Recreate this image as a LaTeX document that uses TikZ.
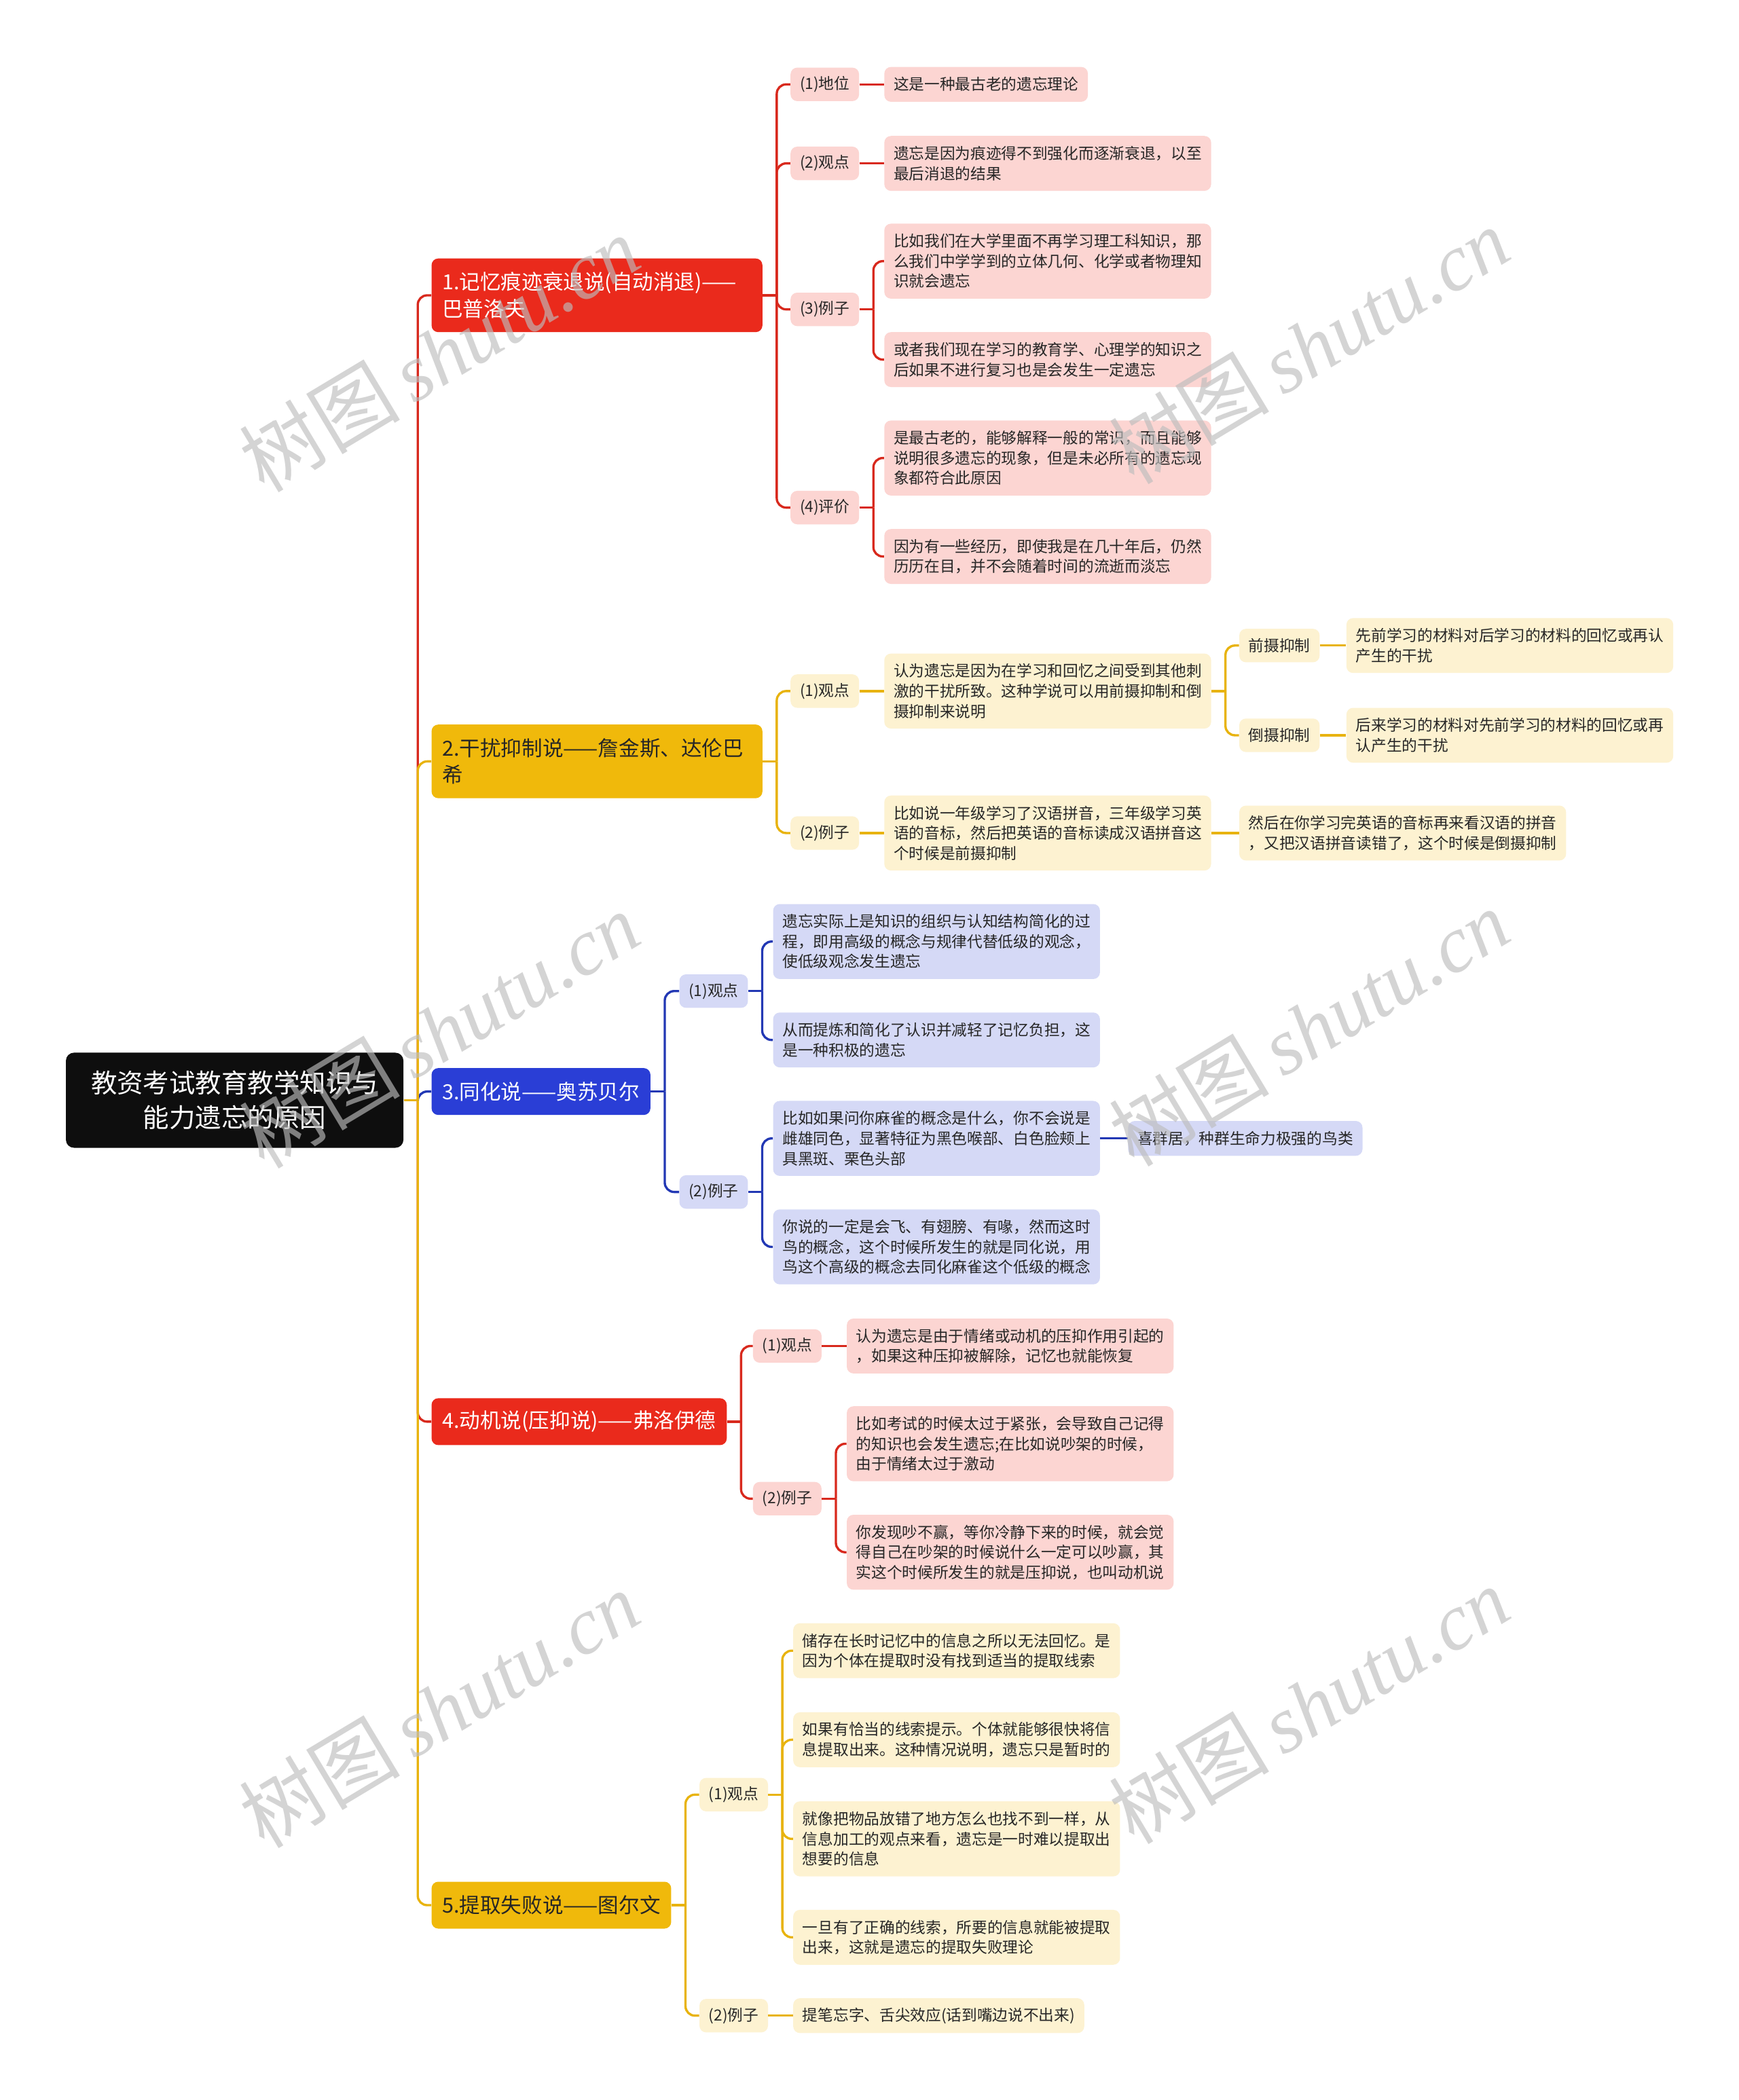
\documentclass[tikz,border=0pt]{standalone}
\usepackage{fontspec}
\setmainfont{Noto Sans CJK SC}
\newfontfamily\wmserif{Liberation Serif}
\newfontfamily\wmcjk{Noto Sans CJK SC}
\usetikzlibrary{calc}

\definecolor{cRed}{HTML}{EA2A1C}
\definecolor{cYel}{HTML}{F0B90B}
\definecolor{cBlu}{HTML}{2A3ED6}
\definecolor{lRed}{HTML}{FCD5D2}
\definecolor{lYel}{HTML}{FDF2D1}
\definecolor{lBlu}{HTML}{D5D9F6}
\definecolor{kRed}{HTML}{D8291D}
\definecolor{kYel}{HTML}{E8B30E}
\definecolor{kBlu}{HTML}{2238B4}
\definecolor{txt}{HTML}{262626}
\definecolor{rootc}{HTML}{0E0E0E}
\definecolor{wm}{HTML}{BDBDBD}

\tikzset{
  box/.style={rounded corners=5pt, anchor=west, inner xsep=7pt, inner ysep=2pt,
    align=left, text=txt, font=\fontsize{11.5}{15}\selectfont},
  one/.style={minimum height=26pt},
  two/.style={minimum height=41pt},
  three/.style={minimum height=56pt},
  lab/.style={box, minimum height=25pt},
  pr/.style={fill=lRed}, py/.style={fill=lYel}, pb/.style={fill=lBlu},
  br/.style={rounded corners=5pt, anchor=west, inner xsep=8pt, inner ysep=2pt,
    align=left, font=\fontsize{15.5}{20}\selectfont},
  brone/.style={br, minimum height=35pt},
  brtwo/.style={br, minimum height=55pt, text width=231pt},
  rootbox/.style={rounded corners=6pt, anchor=west, fill=rootc, text=white,
    align=center, minimum width=252pt, minimum height=71pt,
    font=\fontsize{19.5}{26}\selectfont},
  ln/.style={draw=#1, line width=1.7pt},
  wmark/.style={rotate=31, text=wm, opacity=0.65, inner sep=0pt}
}
\newcommand\mylink[3]{%
  \draw[ln=#1] (#2.east) -- ++(10.5,0);
  \draw[ln=#1, rounded corners=7pt] ($(#2.east)+(10.5,0)$) |- (#3.west);}
\newcommand\mystraight[3]{%
  \draw[ln=#1] (#2.east) -- (#3.west);}

\begin{document}
\begin{tikzpicture}[x=1pt, y=-1pt]
\useasboundingbox (0,0) rectangle (1298,1568);
\fill[white] (0,0) rectangle (1298,1568);

% root
\node[rootbox] (root) at (49,821.5) {教资考试教育教学知识与\\能力遗忘的原因};

% level 1
\node[brtwo, fill=cRed, text=white] (b1) at (322,220.5) {1.记忆痕迹衰退说(自动消退)——\\巴普洛夫};
\node[brtwo, fill=cYel, text=txt] (b2) at (322,568.5) {2.干扰抑制说——詹金斯、达伦巴\\希};
\node[brone, fill=cBlu, text=white] (b3) at (322,815) {3.同化说——奥苏贝尔};
\node[brone, fill=cRed, text=white] (b4) at (322,1061.5) {4.动机说(压抑说)——弗洛伊德};
\node[brone, fill=cYel, text=txt] (b5) at (322,1422.5) {5.提取失败说——图尔文};

% branch 1
\node[lab, pr] (a1) at (590,63) {(1)地位};
\node[lab, pr] (a2) at (590,122) {(2)观点};
\node[lab, pr] (a3) at (590,231) {(3)例子};
\node[lab, pr] (a4) at (590,379) {(4)评价};
\node[box, pr, one] (a1x) at (660,63) {这是一种最古老的遗忘理论};
\node[box, pr, two] (a2x) at (660,122) {遗忘是因为痕迹得不到强化而逐渐衰退，以至\\最后消退的结果};
\node[box, pr, three] (a3x) at (660,195) {比如我们在大学里面不再学习理工科知识，那\\么我们中学学到的立体几何、化学或者物理知\\识就会遗忘};
\node[box, pr, two] (a3y) at (660,268.5) {或者我们现在学习的教育学、心理学的知识之\\后如果不进行复习也是会发生一定遗忘};
\node[box, pr, three] (a4x) at (660,342) {是最古老的，能够解释一般的常识，而且能够\\说明很多遗忘的现象，但是未必所有的遗忘现\\象都符合此原因};
\node[box, pr, two] (a4y) at (660,415.5) {因为有一些经历，即使我是在几十年后，仍然\\历历在目，并不会随着时间的流逝而淡忘};

% branch 2
\node[lab, py] (c1) at (590,516) {(1)观点};
\node[lab, py] (c2) at (590,622) {(2)例子};
\node[box, py, three] (c1x) at (660,516) {认为遗忘是因为在学习和回忆之间受到其他刺\\激的干扰所致。这种学说可以用前摄抑制和倒\\摄抑制来说明};
\node[lab, py] (c1p) at (925,482) {前摄抑制};
\node[lab, py] (c1q) at (925,549) {倒摄抑制};
\node[box, py, two] (c1px) at (1005,482) {先前学习的材料对后学习的材料的回忆或再认\\产生的干扰};
\node[box, py, two] (c1qx) at (1005,549) {后来学习的材料对先前学习的材料的回忆或再\\认产生的干扰};
\node[box, py, three] (c2x) at (660,622) {比如说一年级学习了汉语拼音，三年级学习英\\语的音标，然后把英语的音标读成汉语拼音这\\个时候是前摄抑制};
\node[box, py, two] (c2y) at (925,622) {然后在你学习完英语的音标再来看汉语的拼音\\，又把汉语拼音读错了，这个时候是倒摄抑制};

% branch 3
\node[lab, pb] (d1) at (507,740) {(1)观点};
\node[lab, pb] (d2) at (507,890) {(2)例子};
\node[box, pb, three] (d1x) at (577,703) {遗忘实际上是知识的组织与认知结构简化的过\\程，即用高级的概念与规律代替低级的观念，\\使低级观念发生遗忘};
\node[box, pb, two] (d1y) at (577,776.5) {从而提炼和简化了认识并减轻了记忆负担，这\\是一种积极的遗忘};
\node[box, pb, three] (d2x) at (577,850) {比如如果问你麻雀的概念是什么，你不会说是\\雌雄同色，显著特征为黑色喉部、白色脸颊上\\具黑斑、栗色头部};
\node[box, pb, one] (d2xx) at (842,850) {喜群居，种群生命力极强的鸟类};
\node[box, pb, three] (d2y) at (577,931) {你说的一定是会飞、有翅膀、有喙，然而这时\\鸟的概念，这个时候所发生的就是同化说，用\\鸟这个高级的概念去同化麻雀这个低级的概念};

% branch 4
\node[lab, pr] (e1) at (562,1005) {(1)观点};
\node[lab, pr] (e2) at (562,1119) {(2)例子};
\node[box, pr, two] (e1x) at (632,1005) {认为遗忘是由于情绪或动机的压抑作用引起的\\，如果这种压抑被解除，记忆也就能恢复};
\node[box, pr, three] (e2x) at (632,1078) {比如考试的时候太过于紧张，会导致自己记得\\的知识也会发生遗忘;在比如说吵架的时候，\\由于情绪太过于激动};
\node[box, pr, three] (e2y) at (632,1159) {你发现吵不赢，等你冷静下来的时候，就会觉\\得自己在吵架的时候说什么一定可以吵赢，其\\实这个时候所发生的就是压抑说，也叫动机说};

% branch 5
\node[lab, py] (f1) at (522,1340) {(1)观点};
\node[lab, py] (f2) at (522,1505) {(2)例子};
\node[box, py, two] (f1a) at (592,1232.5) {储存在长时记忆中的信息之所以无法回忆。是\\因为个体在提取时没有找到适当的提取线索};
\node[box, py, two] (f1b) at (592,1299) {如果有恰当的线索提示。个体就能够很快将信\\息提取出来。这种情况说明，遗忘只是暂时的};
\node[box, py, three] (f1c) at (592,1373) {就像把物品放错了地方怎么也找不到一样，从\\信息加工的观点来看，遗忘是一时难以提取出\\想要的信息};
\node[box, py, two] (f1d) at (592,1446.5) {一旦有了正确的线索，所要的信息就能被提取\\出来，这就是遗忘的提取失败理论};
\node[box, py, one] (f2x) at (592,1505) {提笔忘字、舌尖效应(话到嘴边说不出来)};

% connectors: root
\mylink{kRed}{root}{b1}
\mylink{kRed}{root}{b4}
\mylink{kBlu}{root}{b3}
\mylink{kYel}{root}{b2}
\mylink{kYel}{root}{b5}

% branch 1
\mylink{kRed}{b1}{a1}
\mylink{kRed}{b1}{a2}
\mylink{kRed}{b1}{a3}
\mylink{kRed}{b1}{a4}
\mystraight{kRed}{a1}{a1x}
\mystraight{kRed}{a2}{a2x}
\mylink{kRed}{a3}{a3x}
\mylink{kRed}{a3}{a3y}
\mylink{kRed}{a4}{a4x}
\mylink{kRed}{a4}{a4y}

% branch 2
\mylink{kYel}{b2}{c1}
\mylink{kYel}{b2}{c2}
\mystraight{kYel}{c1}{c1x}
\mylink{kYel}{c1x}{c1p}
\mylink{kYel}{c1x}{c1q}
\mystraight{kYel}{c1p}{c1px}
\mystraight{kYel}{c1q}{c1qx}
\mystraight{kYel}{c2}{c2x}
\mystraight{kYel}{c2x}{c2y}

% branch 3
\mylink{kBlu}{b3}{d1}
\mylink{kBlu}{b3}{d2}
\mylink{kBlu}{d1}{d1x}
\mylink{kBlu}{d1}{d1y}
\mylink{kBlu}{d2}{d2x}
\mylink{kBlu}{d2}{d2y}
\mystraight{kBlu}{d2x}{d2xx}

% branch 4
\mylink{kRed}{b4}{e1}
\mylink{kRed}{b4}{e2}
\mystraight{kRed}{e1}{e1x}
\mylink{kRed}{e2}{e2x}
\mylink{kRed}{e2}{e2y}

% branch 5
\mylink{kYel}{b5}{f1}
\mylink{kYel}{b5}{f2}
\mylink{kYel}{f1}{f1a}
\mylink{kYel}{f1}{f1b}
\mylink{kYel}{f1}{f1c}
\mylink{kYel}{f1}{f1d}
\mystraight{kYel}{f2}{f2x}

% watermarks
\foreach \wx/\wy [count=\i] in {328/264, 977/258, 328/769, 977/767, 328/1276, 977/1273}{
  \node[wmark] (wm\i) at (\wx,\wy) {\fontsize{60}{60}\selectfont\wmcjk 树图\,{\wmserif\itshape shutu.cn}};
}
\end{tikzpicture}
\end{document}
